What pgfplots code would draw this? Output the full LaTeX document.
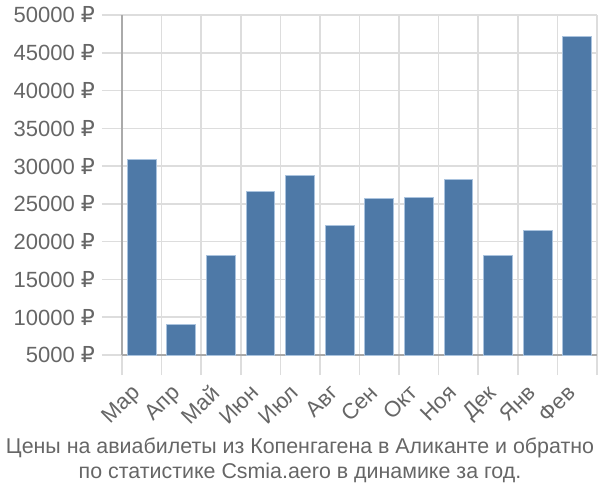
\documentclass[border=0pt]{standalone}
\usepackage{pgfplots}
\pgfplotsset{compat=1.18}
\usepackage{fontspec}
\setmainfont{Liberation Sans}
\newfontfamily\rubfont{DejaVu Sans}
\newcommand{\rub}{{\rubfont ₽}}
\definecolor{barblue}{RGB}{78,121,167}
\definecolor{baredge}{RGB}{170,195,222}
\definecolor{txt}{RGB}{102,102,102}
\definecolor{gridc}{RGB}{221,221,221}
\definecolor{axisc}{RGB}{170,170,170}
\begin{document}
\begin{tikzpicture}
\path[use as bounding box] (0,0) rectangle (300pt,250pt);
\begin{axis}[
  at={(61pt,72.5pt)}, anchor=south west,
  scale only axis, width=237.5pt, height=170pt,
  xmin=-0.5, xmax=11.5, ymin=5000, ymax=50000,
  scaled y ticks=false,
  ytick={5000,10000,...,50000},
  yticklabels={5000 \rub,10000 \rub,15000 \rub,20000 \rub,25000 \rub,30000 \rub,35000 \rub,40000 \rub,45000 \rub,50000 \rub},
  xtick={0,...,11},
  xticklabels={Мар,Апр,Май,Июн,Июл,Авг,Сен,Окт,Ноя,Дек,Янв,Фев},
  minor xtick={-0.5,0.5,...,11.5},
  axis x line*=bottom, axis y line*=left,
  axis line style={draw=axisc, line width=0.8pt},
  tick align=outside,
  major tick length=10pt, minor tick length=10pt,
  x tick style={draw=none},
  minor x tick style={draw=gridc, line width=0.8pt},
  y tick style={draw=gridc, line width=0.8pt},
  ymajorgrids, xminorgrids,
  major grid style={draw=gridc, line width=0.8pt},
  minor grid style={draw=gridc, line width=0.8pt},
  tick label style={font=\fontsize{11}{13}\selectfont, text=txt},
  xticklabel style={rotate=45, anchor=north east, xshift=-3.5pt, yshift=4.5pt},
  clip=false,
]
\addplot[ybar, bar width=0.73, fill=barblue, draw=baredge, line width=0.5pt] coordinates {
(0,30900) (1,9100) (2,18200) (3,26700) (4,28750) (5,22100)
(6,25700) (7,25800) (8,28200) (9,18150) (10,21500) (11,47200)
};
\end{axis}
\node[text=txt, font=\fontsize{10.7}{12.5}\selectfont, align=center] at (150pt,20pt)
  {Цены на авиабилеты из Копенгагена в Аликанте и обратно\\по статистике Csmia.aero в динамике за год.};
\end{tikzpicture}
\end{document}
